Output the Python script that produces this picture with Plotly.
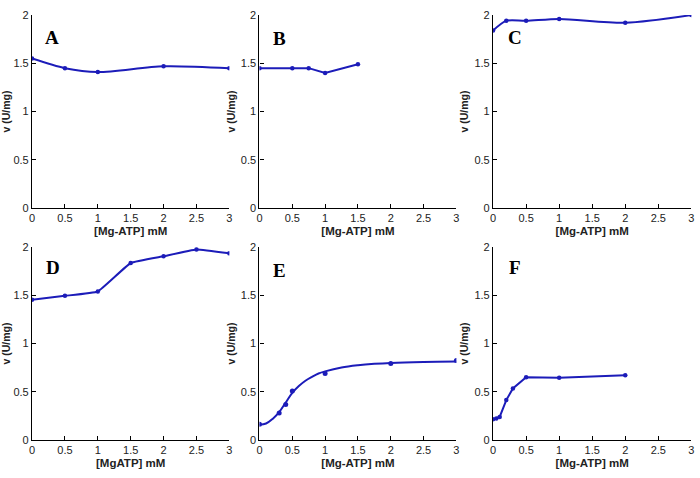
import plotly.graph_objects as go

# ---------------- data ----------------
a_x = [0, 0.5, 1, 2, 3]
a_y = [1.55, 1.45, 1.41, 1.47, 1.45]

b_x = [0, 0.5, 0.75, 1, 1.5]
b_y = [1.45, 1.45, 1.45, 1.40, 1.49]

c_x = [0, 0.2, 0.5, 1, 2, 3]
c_y = [1.84, 1.94, 1.94, 1.96, 1.92, 2.00]

d_x = [0, 0.5, 1, 1.5, 2, 2.5, 3]
d_y = [1.455, 1.495, 1.54, 1.835, 1.905, 1.975, 1.935]

e_x = [0, 0.3, 0.4, 0.5, 1, 2, 3]
e_y = [0.165, 0.28, 0.37, 0.51, 0.69, 0.795, 0.825]
e_fit_x = [0, 0.1, 0.2, 0.3, 0.4, 0.5, 0.6, 0.7, 0.8, 0.9, 1.0, 1.25, 1.5, 1.75, 2.0, 2.5, 3.0]
e_fit_y = [0.16, 0.172, 0.22, 0.29, 0.39, 0.49, 0.56, 0.615, 0.655, 0.69, 0.712, 0.752, 0.775, 0.79, 0.80, 0.81, 0.815]

f_x = [0, 0.05, 0.1, 0.2, 0.3, 0.5, 1, 2]
f_y = [0.215, 0.225, 0.24, 0.415, 0.535, 0.652, 0.645, 0.673]

panel_letters = ["A", "B", "C", "D", "E", "F"]
x_titles = ["[Mg-ATP] mM", "[Mg-ATP] mM", "[Mg-ATP] mM", "[MgATP] mM", "[Mg-ATP] mM", "[Mg-ATP] mM"]
y_title = "v (U/mg)"
x_ticks = [0, 0.5, 1, 1.5, 2, 2.5, 3]
y_ticks = [0, 0.5, 1, 1.5, 2]

# ---------------- styling ----------------
W, H = 700, 478
BLUE = "rgb(28,28,185)"
col_px = [(29.3, 228.3), (258.7, 457.3), (494.3, 694.3)]
row_px = [(9.3, 207.3), (247.3, 445.3)]

fig = go.Figure()

def add_line(x, y, idx, shape="linear", markers=True, smooth=None):
    suffix = "" if idx == 1 else str(idx)
    line = dict(color=BLUE, width=2, shape=shape)
    if smooth is not None:
        line["smoothing"] = smooth
    fig.add_trace(go.Scatter(
        x=x, y=y, mode="lines+markers" if markers else "lines",
        line=line, marker=dict(color=BLUE, size=4.5),
        xaxis="x" + suffix, yaxis="y" + suffix, showlegend=False, hoverinfo="x+y"))

def add_markers(x, y, idx):
    suffix = "" if idx == 1 else str(idx)
    fig.add_trace(go.Scatter(
        x=x, y=y, mode="markers", marker=dict(color=BLUE, size=5),
        xaxis="x" + suffix, yaxis="y" + suffix, showlegend=False))

add_line(a_x, a_y, 1, shape="spline", smooth=0.8)
add_line(b_x, b_y, 2)
add_line(c_x, c_y, 3, shape="spline", smooth=0.8)
add_line(d_x, d_y, 4, shape="spline", smooth=0.3)
add_line(e_fit_x, e_fit_y, 5, shape="spline", markers=False, smooth=1.0)
add_markers(e_x, e_y, 5)
add_line(f_x, f_y, 6)

tick_font = dict(family="Liberation Sans, Arial, sans-serif", size=11, color="#222")
xtitle_font = dict(family="Liberation Sans, Arial, sans-serif", size=11.5, color="#222")
ytitle_font = dict(family="Liberation Sans, Arial, sans-serif", size=10.5, color="#222")

layout = dict(width=W, height=H, margin=dict(l=0, r=0, t=0, b=0),
              paper_bgcolor="white", plot_bgcolor="white", showlegend=False)

annotations = []
for i in range(6):
    r, c = divmod(i, 3)
    idx = i + 1
    suffix = "" if idx == 1 else str(idx)
    x0, x1 = col_px[c]
    y0, y1 = row_px[r]
    common = dict(showline=True, linecolor="black", linewidth=1.3, ticks="inside",
                  ticklen=4, tickwidth=1, tickcolor="black", showgrid=False,
                  zeroline=False, mirror=False, tickfont=tick_font, fixedrange=True,
                  ticklabeloverflow="allow")
    layout["xaxis" + suffix] = dict(
        domain=[x0 / W, x1 / W], range=[0, 3], anchor="y" + suffix,
        tickvals=x_ticks, ticktext=[f"{v:g}" for v in x_ticks],
        title=dict(text="<b>" + x_titles[i] + "</b>", font=xtitle_font, standoff=3),
        **common)
    layout["yaxis" + suffix] = dict(
        domain=[1 - y1 / H, 1 - y0 / H], range=[0, 2], anchor="x" + suffix,
        tickvals=y_ticks, ticktext=[f"{v:g}" for v in y_ticks],
        title=dict(text="<b>" + y_title + "</b>", font=ytitle_font, standoff=3),
        **common)

letter_pos = [(49, 32), (279, 33), (516, 32), (50, 268), (279, 271), (516, 268)]
for letter, (px, py) in zip(panel_letters, letter_pos):
    annotations.append(dict(
        text="<b>" + letter + "</b>", x=px / W, y=1 - py / H, xref="paper", yref="paper",
        showarrow=False, xanchor="center", yanchor="middle",
        font=dict(family="Liberation Serif, Times New Roman, serif", size=19, color="black")))

layout["annotations"] = annotations
fig.update_layout(**layout)
fig.write_html("out.html", config={"displayModeBar": False},
               post_script="document.body.style.margin='0px';document.body.style.padding='0px';")
